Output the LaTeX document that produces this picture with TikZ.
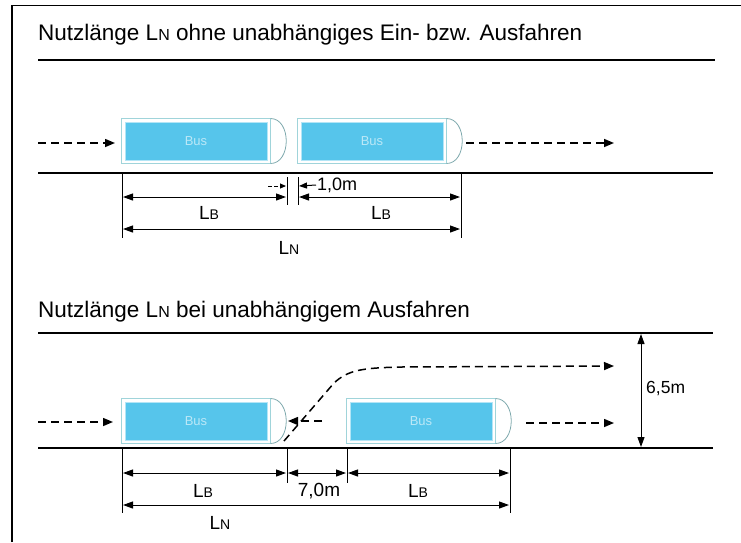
\documentclass[tikz,border=0pt]{standalone}
\usepackage{fontspec}
\setmainfont{Liberation Sans}
\usetikzlibrary{positioning,arrows.meta}
\definecolor{busblue}{RGB}{86,197,235}
\definecolor{busrim}{RGB}{160,212,218}
\newcommand{\Lsub}[2][14]{L{\fontsize{#1}{#1}\selectfont #2}}
\begin{document}
\begin{tikzpicture}[x=1pt, y=-1pt,
    road/.style={line width=2.6pt},
    flow/.style={line width=1.5pt, dash pattern=on 8pt off 5pt, -{Triangle[length=10pt,width=8pt]}},
    dim/.style={line width=1pt, {Triangle[length=10pt,width=7pt]}-{Triangle[length=10pt,width=7pt]}},
    tick/.style={line width=1pt},
    bus/.style={rectangle, fill=busblue, draw=white!55!busblue, line width=1pt, minimum width=142pt,
      minimum height=38pt, inner sep=0pt, text=white!60!busblue, font=\fontsize{13}{13}\selectfont},
    lbl/.style={font=\fontsize{19}{19}\selectfont, inner sep=1pt},
    title/.style={anchor=west, font=\fontsize{22.5}{24}\selectfont, inner sep=0pt}]
  \useasboundingbox (0,0) rectangle (741,542);
  % frame
  \draw[line width=1.4pt] (12,542) -- (12,5);
  \draw[line width=0.8pt] (12,5) -- (741,5);

  % ---- ohne unabhaengiges Ein-/Ausfahren
  \node[title] (title1) at (38,35) {Nutzlänge \Lsub[16]{N} ohne unabhängiges Ein- bzw. Ausfahren};
  \draw[road] (38,60) -- (715,60);
  \draw[road] (38,173) -- (713,173);
  \node[bus] (bus1) at (196,141) {Bus};
  \node[bus] (bus2) at (372,141) {Bus};
  \draw[flow] (38,143) -- (115,143);
  \draw[flow] (466,143) -- (614,143);

  \draw[tick] (122,173) -- (122,238);
  \draw[tick] (287,177) -- (287,205);
  \draw[tick] (298,177) -- (298,205);
  \draw[tick] (461,173) -- (461,238);
  \node[lbl, font=\fontsize{18}{18}\selectfont, anchor=west] (gap1) at (316,185) {1,0m};
  \draw[line width=1pt, -{Triangle[length=8pt,width=6pt]}] (gap1.west) -- (299,186);
  \draw[line width=1pt, dash pattern=on 4pt off 2pt, -{Triangle[length=6pt,width=5pt]}] (268,186) -- (286,186);
  \draw[dim] (123,197) -- (286,197);
  \draw[dim] (299,197) -- (460,197);
  \node[lbl] (lb1) at (209,213) {\Lsub{B}};
  \node[lbl] (lb2) at (381,213) {\Lsub{B}};
  \draw[dim] (123,229) -- (460,229);
  \node[lbl] (ln1) at (289,248) {\Lsub{N}};

  % ---- bei unabhaengigem Ausfahren
  \node[title] (title2) at (38,312) {Nutzlänge \Lsub[16]{N} bei unabhängigem Ausfahren};
  \draw[road] (38,333) -- (713,333);
  \draw[road] (38,448) -- (713,448);
  \node[bus] (bus3) at (196,421) {Bus};
  \node[bus] (bus4) at (421,421) {Bus};
  \draw[flow] (38,422) -- (113,422);
  \draw[flow] (526,423) -- (614,423);
  \draw[flow] (322,421) -- (288,421);
  \draw[flow] (284,441) -- (334,383) .. controls (348,370) and (362,368) .. (400,367) -- (614,366);

  \draw[dim] (641,334) -- (641,447);
  \node[lbl, font=\fontsize{17.5}{17.5}\selectfont, anchor=west] (road2) at (645,388) {6,5m};

  \draw[tick] (122,448) -- (122,513);
  \draw[tick] (287,448) -- (287,483);
  \draw[tick] (347,448) -- (347,483);
  \draw[tick] (510,448) -- (510,513);
  \draw[dim] (123,473) -- (286,473);
  \draw[dim] (288,473) -- (346,473);
  \draw[dim] (348,473) -- (509,473);
  \node[lbl] (lb3) at (203,491) {\Lsub{B}};
  \node[lbl] (gap2) at (319,491) {7,0m};
  \node[lbl] (lb4) at (418,491) {\Lsub{B}};
  \draw[dim] (123,505) -- (509,505);
  \node[lbl] (ln2) at (220,523) {\Lsub{N}};

  % bus rims and front ends
  \foreach \b in {bus1,bus2,bus3,bus4} {
    \draw[busrim, line width=0.8pt] ([shift={(-3,-3)}]\b.north west) rectangle ([shift={(3,3)}]\b.south east);
    \draw[busrim!80!black, line width=0.8pt] ([shift={(3,-3)}]\b.north east)
      .. controls +(21,0) and +(21,0) .. ([shift={(3,3)}]\b.south east);
  }
\end{tikzpicture}
\end{document}
